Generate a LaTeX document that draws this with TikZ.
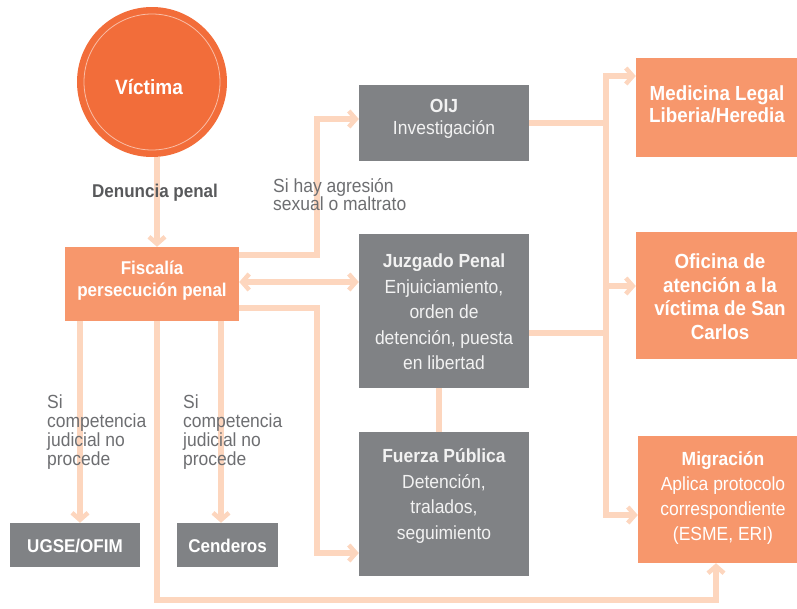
\documentclass[tikz,border=0pt]{standalone}
\usepackage{fontspec}
\setmainfont[FakeStretch=0.92]{Liberation Sans}
\usetikzlibrary{arrows.meta}
\definecolor{vicor}{HTML}{F26D3A}
\definecolor{salmon}{HTML}{F7976C}
\definecolor{gbox}{HTML}{808285}
\definecolor{connc}{HTML}{FDD6BE}
\definecolor{lblc}{HTML}{6D6E71}
\definecolor{dlbl}{HTML}{58595B}
\definecolor{ltxt}{HTML}{F2F2F2}
\tikzset{
  conn/.style={draw=connc, line width=6pt},
  >={Straight Barb[length=7pt,width=16pt,line width=4.5pt]},
  sbox/.style={fill=salmon, inner sep=0pt},
  gbx/.style={fill=gbox, inner sep=0pt},
  btxt/.style={text=white, align=center, inner sep=0pt, font=\bfseries\fontsize{18.5}{22}\selectfont},
  gtxt/.style={text=ltxt, align=center, inner sep=0pt, font=\fontsize{19}{25.5}\selectfont},
  lbl/.style={text=lblc, align=left, inner sep=0pt, anchor=north west},
}
\begin{document}
\begin{tikzpicture}[x=1pt,y=-1pt]
\useasboundingbox (0,0) rectangle (797,608);
% shapes
\node[circle, fill=vicor, minimum size=150pt, inner sep=0pt] (vic) at (152,82) {};
\draw[white, opacity=.55, line width=.8pt] (vic.center) circle[radius=68pt];
\node[text=white, inner sep=0pt, font=\bfseries\fontsize{20.7}{22}\selectfont] (vict) at (149,87) {Víctima};

\node[sbox, minimum width=174pt, minimum height=74pt] (fis) at (152,284) {};
\node[gbx, minimum width=130pt, minimum height=44pt] (ug) at (75,545) {};
\node[gbx, minimum width=101pt, minimum height=44pt] (cen) at (227.5,545) {};
\node[gbx, minimum width=170pt, minimum height=76pt] (oij) at (444,123) {};
\node[gbx, minimum width=170pt, minimum height=154pt] (jp) at (444,311) {};
\node[gbx, minimum width=170pt, minimum height=144pt] (fp) at (444,504) {};
\node[sbox, minimum width=161pt, minimum height=99pt] (med) at (716.5,107.5) {};
\node[sbox, minimum width=161pt, minimum height=127pt] (ofi) at (716.5,295.5) {};
\node[sbox, minimum width=159pt, minimum height=127pt] (mig) at (717.5,499.5) {};

% bend coordinates
\coordinate (xa) at (317,200);
\coordinate (xb) at (317,420);
\coordinate (xr) at (606,300);
\coordinate (yb) at (0,600);

% connectors
\draw[conn,->] ([xshift=5pt]vic.south) -- ([xshift=5pt]fis.north);
\draw[conn,->] ([yshift=29pt]fis.east) -| (xa) |- ([yshift=4pt]oij.west);
\coordinate (d1) at ([yshift=2pt]fis.east);
\draw[conn,<->] (d1) -- (d1 -| jp.west);
\draw[conn,->] ([yshift=-24pt]fis.east) -| (xb) |- ([yshift=-49pt]fp.west);
\coordinate (s4) at ([xshift=-72pt]fis.south);
\draw[conn,->] (s4) -- (s4 |- ug.north);
\coordinate (s5) at ([xshift=69pt]fis.south);
\draw[conn,->] (s5) -- (s5 |- cen.north);
\coordinate (s6) at ([xshift=5pt]fis.south);
\draw[conn,->] (s6) -- (s6 |- yb) -| ([xshift=-1.5pt]mig.south);
\draw[conn] (oij.east) -- (oij.east -| xr);
\coordinate (j2) at ([yshift=-22pt]jp.east);
\draw[conn] (j2) -- (j2 -| xr);
\draw[conn] ([xshift=-5pt]jp.south) -- ([xshift=-5pt]fp.north);
\coordinate (m1) at ([yshift=31.5pt]med.west);
\coordinate (g1) at ([yshift=-15.5pt]mig.west);
\draw[conn,<->] (m1) -| (xr) |- (g1);
\coordinate (o1) at ([yshift=9.5pt]ofi.west);
\draw[conn,->] (o1 -| xr) -- (o1);

% texts
\node[text=dlbl, inner sep=0pt, font=\bfseries\fontsize{18.5}{20}\selectfont] (den) at (155,193) {Denuncia penal};
\node[btxt] (fist) at (152,281) {Fiscalía\\persecución penal};
\node[btxt] (ugt) at (75,546) {UGSE/OFIM};
\node[btxt] (cent) at (227.5,546) {Cenderos};
\node[gtxt, font=\fontsize{19}{22}\selectfont] (oijt) at (444,119) {\textbf{OIJ}\\Investigación};
\node[gtxt] (jpt) at (444,312) {\textbf{Juzgado Penal}\\Enjuiciamiento,\\orden de\\detención, puesta\\en libertad};
\node[gtxt] (fpt) at (444,496) {\textbf{Fuerza Pública}\\Detención,\\tralados,\\seguimiento};
\node[btxt, font=\bfseries\fontsize{20.4}{22}\selectfont] (medt) at (717,104) {Medicina Legal\\Liberia/Heredia};
\node[btxt, font=\bfseries\fontsize{20.4}{23.5}\selectfont] (ofit) at (720,296.5) {Oficina de\\atención a la\\víctima de San\\Carlos};
\node[gtxt, text=white, font=\fontsize{19}{25.3}\selectfont] (migt) at (723,498) {\textbf{Migración}\\Aplica protocolo\\correspondiente\\(ESME, ERI)};
\node[lbl, font=\fontsize{19}{17}\selectfont] (agr) at (273,178) {Si hay agresión\\sexual o maltrato};
\node[lbl, font=\fontsize{19}{19}\selectfont] (c1) at (47,395) {Si\\competencia\\judicial no\\procede};
\node[lbl, font=\fontsize{19}{19}\selectfont] (c2) at (183,395) {Si\\competencia\\judicial no\\procede};
\end{tikzpicture}
\end{document}
